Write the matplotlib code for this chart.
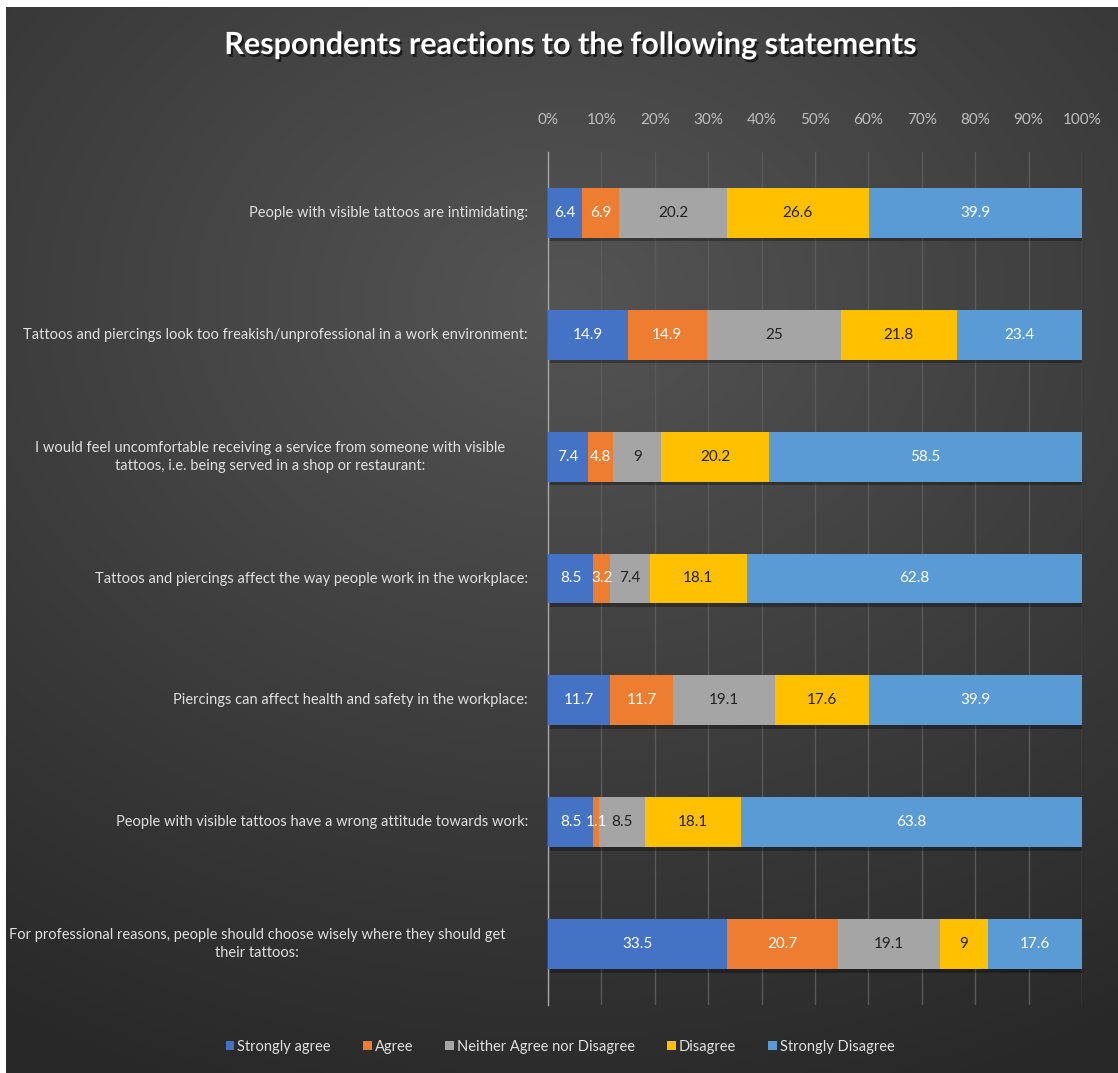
import matplotlib.pyplot as plt
import matplotlib.patheffects as pe
from matplotlib.patches import Patch
import numpy as np

# Data
statements = [
    "People with visible tattoos are intimidating:",
    "Tattoos and piercings look too freakish/unprofessional in a work environment:",
    "I would feel uncomfortable receiving a service from someone with visible\ntattoos, i.e. being served in a shop or restaurant:",
    "Tattoos and piercings affect the way people work in the workplace:",
    "Piercings can affect health and safety in the workplace:",
    "People with visible tattoos have a wrong attitude towards work:",
    "For professional reasons, people should choose wisely where they should get\ntheir tattoos:",
]
series_names = ["Strongly agree", "Agree", "Neither Agree nor Disagree", "Disagree", "Strongly Disagree"]
strongly_agree = [6.4, 14.9, 7.4, 8.5, 11.7, 8.5, 33.5]
agree = [6.9, 14.9, 4.8, 3.2, 11.7, 1.1, 20.7]
neither = [20.2, 25, 9, 7.4, 19.1, 8.5, 19.1]
disagree = [26.6, 21.8, 20.2, 18.1, 17.6, 18.1, 9]
strongly_disagree = [39.9, 23.4, 58.5, 62.8, 39.9, 63.8, 17.6]
tick_labels = [f"{v}%" for v in range(0, 101, 10)]

colors = ["#4472C4", "#ED7D31", "#A5A5A5", "#FFC000", "#5B9BD5"]
text_colors = ["white", "white", "#222222", "#222222", "white"]

plt.rcParams['font.family'] = ['Lato', 'DejaVu Sans']

W, H = 1118, 1073
fig = plt.figure(figsize=(W / 100, H / 100), dpi=100, facecolor="white")

# Background gradient
bg = fig.add_axes([6 / W, 0, 1 - 6 / W, 1 - 7 / H])
yy, xx = np.mgrid[0:400, 0:400]
cx, cy = 200, 110
r = np.sqrt(((xx - cx) / 400) ** 2 + ((yy - cy) / 330) ** 2)
grad = np.clip(1 - r / 0.95, 0, 1)
val = 0.16 + 0.17 * grad
img = np.dstack([val, val, val])
bg.imshow(img, aspect="auto", extent=[0, 1, 0, 1], origin="upper")
bg.set_axis_off()
bg.set_zorder(-10)

# Main axes
ax = fig.add_axes([548 / W, 1 - 1005 / H, (1082 - 548) / W, (1005 - 152) / H])
ax.set_facecolor("none")

data = np.array([strongly_agree, agree, neither, disagree, strongly_disagree])
totals = data.sum(axis=0)
pct = data / totals * 100
y = np.arange(len(statements))
left = np.zeros(len(statements))
shadow = [pe.SimplePatchShadow(offset=(1.5, -2.5), shadow_rgbFace="black", alpha=0.3), pe.Normal()]
for i, name in enumerate(series_names):
    bars = ax.barh(y, pct[i], left=left, height=0.41, color=colors[i], zorder=3)
    for b in bars:
        b.set_path_effects(shadow)
    for j in range(len(statements)):
        ax.text(left[j] + pct[i][j] / 2, y[j], f"{data[i][j]:g}", ha="center", va="center",
                color=text_colors[i], fontsize=11, zorder=5)
    left += pct[i]

ax.set_xlim(0, 100)
ax.set_ylim(len(statements) - 0.5, -0.5)
ax.set_xticks(np.arange(0, 101, 10))
ax.set_xticklabels(tick_labels)
ax.xaxis.tick_top()
ax.tick_params(axis="x", colors="#bfbfbf", labelsize=11, length=0, pad=18)
ax.set_yticks([])
ax.grid(axis="x", color="#5a5a5a", linewidth=1, zorder=0)
for s in ["top", "right", "bottom"]:
    ax.spines[s].set_visible(False)
ax.spines["left"].set_color("#a6a6a6")
ax.spines["left"].set_linewidth(1)

# Category labels
for j, s in enumerate(statements):
    if "\n" in s:
        ax.text(-0.08, y[j], s, transform=ax.get_yaxis_transform(), ha="right", va="center",
                multialignment="center", color="#e0e0e0", fontsize=10.5, linespacing=1.35)
    else:
        ax.text(-0.0375, y[j], s, transform=ax.get_yaxis_transform(), ha="right", va="center",
                color="#e0e0e0", fontsize=10.5)

# Title
fig.text(570 / W, 1 - 45 / H, "Respondents reactions to the following statements", ha="center", va="center",
         color="white", fontsize=22, fontweight="bold",
         path_effects=[pe.withSimplePatchShadow(offset=(1.5, -2), shadow_rgbFace="black", alpha=0.6)])

# Legend
handles = [Patch(facecolor=c) for c in colors]
fig.legend(handles, series_names, loc="center", bbox_to_anchor=(560 / W, 1 - 1047 / H), ncol=5, frameon=False,
           fontsize=10.5, labelcolor="#e0e0e0", handlelength=0.6, handleheight=0.6, handletextpad=0.2,
           columnspacing=2.2)

fig.savefig("out.png", dpi=100, facecolor="white")
